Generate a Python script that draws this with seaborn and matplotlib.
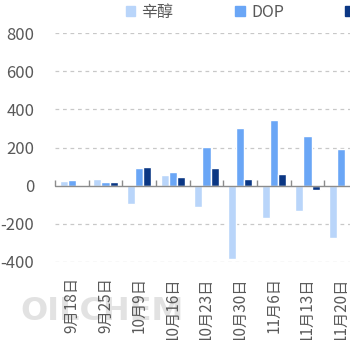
import numpy as np
import pandas as pd
import matplotlib
matplotlib.use("Agg")
import matplotlib.pyplot as plt
import seaborn as sns

dates = ["9月18日", "9月25日", "10月9日", "10月16日", "10月23日",
         "10月30日", "11月6日", "11月13日", "11月20日"]
series_names = ["辛醇", "DOP", "苯酐"]
octanol = [27, 37, -98, 58, -114, -386, -172, -133, -272]
dop = [32, 17, 95, 74, 202, 302, 344, 260, 191]
third = [0, 21, 100, 48, 91, 33, 60, -25, 0]
y_ticks = [-400, -200, 0, 200, 400, 600, 800]
colors = ["#b9d5fa", "#6aa6f6", "#0b3784"]

df = pd.DataFrame({
    "date": dates * 3,
    "series": [series_names[0]] * 9 + [series_names[1]] * 9 + [series_names[2]] * 9,
    "value": octanol + dop + third,
})

sns.set_theme(style="white")
plt.rcParams["font.family"] = ["Noto Sans CJK SC", "DejaVu Sans"]
plt.rcParams["axes.unicode_minus"] = False

fig = plt.figure(figsize=(3.5, 3.4), dpi=100)
fig.patch.set_facecolor("white")

fig.text(20 / 350, 0.085, "OILCHEM", fontsize=23, fontweight="bold",
         color="#e2e2e2", va="center", ha="left", zorder=-5,
         family="DejaVu Sans")

ax = fig.add_axes([55 / 350, 78 / 340, 303 / 350, 229 / 340])
ax.patch.set_alpha(0)

sns.barplot(data=df, x="date", y="value", hue="series", palette=colors,
            width=0.72, dodge=True, gap=0, ax=ax, legend=False,
            saturation=1, zorder=3)

ax.set_ylim(-400, 800)
ax.set_xlim(-0.5, len(dates) - 0.5)
ax.set_yticks(y_ticks)
ax.set_yticklabels([str(v) for v in y_ticks])
for v in y_ticks:
    if v != 0:
        ax.axhline(v, color="#c8c8c8", lw=0.9, ls=(0, (3, 3)), zorder=1)
ax.axhline(0, color="#8c8c8c", lw=1, zorder=4)
ax.set_xlabel("")
ax.set_ylabel("")
for s in ax.spines.values():
    s.set_visible(False)
ax.tick_params(axis="y", length=0, pad=15, labelsize=12, labelcolor="#595959")
ax.tick_params(axis="x", length=0, pad=11, labelsize=11, labelcolor="#595959")
for lab in ax.get_xticklabels():
    lab.set_rotation(90)
    lab.set_va("top")
    lab.set_ha("center")

# category boundary tick marks on the zero line
frac = (0 - (-400)) / 1200
sec = ax.secondary_xaxis(frac)
sec.set_xticks(np.arange(len(dates) + 1) - 0.5)
sec.set_xticklabels([])
sec.tick_params(direction="in", length=4, width=1, color="#8c8c8c")
for k in ["top", "left", "right", "bottom"]:
    sec.spines[k].set_visible(False)

handles = [plt.Rectangle((0, 0), 1, 1, color=c) for c in colors]
fig.legend(handles, series_names, loc="upper left",
           bbox_to_anchor=(116 / 350, 1 + 6 / 340), ncol=3, frameon=False,
           handlelength=0.6, handleheight=0.6, handletextpad=0.4,
           columnspacing=3.85, borderpad=0.1, fontsize=11.5,
           labelcolor="#595959")

fig.savefig("out.png", dpi=100)
